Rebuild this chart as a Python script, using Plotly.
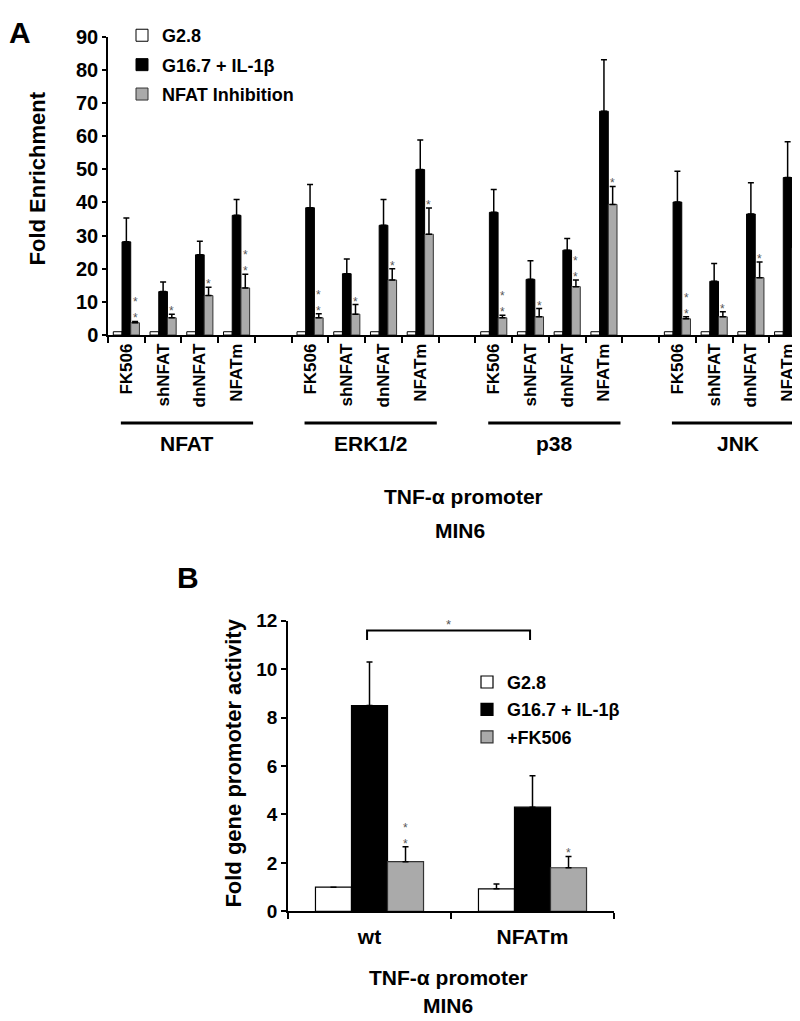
import plotly.graph_objects as go

W, H = 800, 1021
FONT = "Liberation Sans, Arial, sans-serif"

# ---------------- Panel A data ----------------
groups_A = ["NFAT", "ERK1/2", "p38", "JNK"]
treatments_A = ["FK506", "shNFAT", "dnNFAT", "NFATm"]
white_A = [1.0, 1.0, 1.0, 1.0, 1.0, 1.0, 1.0, 1.0, 1.0, 1.0, 1.0, 1.0, 1.0, 1.0, 1.0, 1.0]
black_A = [28.1, 13.1, 24.2, 36.1, 38.4, 18.5, 33.1, 49.9, 37.0, 16.8, 25.6, 67.5, 40.1, 16.2, 36.5, 47.5]
black_err_A = [7.2, 2.9, 4.1, 4.8, 7.0, 4.4, 7.8, 8.9, 6.9, 5.6, 3.5, 15.5, 9.3, 5.4, 9.4, 10.8]
gray_A = [3.7, 5.2, 11.9, 14.2, 5.2, 6.3, 16.6, 30.4, 5.2, 5.5, 14.6, 39.4, 4.9, 5.5, 17.3, 26.3]
gray_err_A = [0.4, 1.1, 2.5, 4.1, 1.2, 2.9, 3.4, 7.9, 0.8, 2.5, 2.0, 5.4, 0.6, 1.5, 4.7, 7.2]
sig_A = ["**", "*", "*", "**", "**", "*", "*", "*", "**", "*", "**", "*", "**", "*", "*", "*"]
yticks_A = [0, 10, 20, 30, 40, 50, 60, 70, 80, 90]
legend_A = ["G2.8", "G16.7 + IL-1\u03b2", "NFAT Inhibition"]

# ---------------- Panel B data ----------------
cats_B = ["wt", "NFATm"]
white_B = [1.0, 0.93]
white_err_B = [0.0, 0.2]
black_B = [8.5, 4.3]
black_err_B = [1.8, 1.3]
gray_B = [2.05, 1.8]
gray_err_B = [0.62, 0.47]
sig_B = ["**", "*"]
yticks_B = [0, 2, 4, 6, 8, 10, 12]
legend_B = ["G2.8", "G16.7 + IL-1\u03b2", "+FK506"]

GRAY = "#aaaaaa"
STAR = "#555555"


def px(x):
    return x / W


def py(y):
    return 1 - y / H


# positions: 4 groups of 4 categories separated by one empty slot
xA = [g * 5 + i for g in range(len(groups_A)) for i in range(len(treatments_A))]
labels_A = [t for g in groups_A for t in treatments_A]
wA = 0.237

fig = go.Figure()


def err(arr):
    return dict(type="data", array=arr, arrayminus=[0] * len(arr), symmetric=False,
                color="black", thickness=1.5, width=3)


fig.add_trace(go.Bar(x=xA, y=white_A, width=wA, offset=-1.5 * wA, name=legend_A[0],
                     marker=dict(color="white", line=dict(color="black", width=1)),
                     xaxis="x", yaxis="y", legend="legend", legendgroup="a1"))
fig.add_trace(go.Bar(x=xA, y=black_A, width=wA, offset=-0.5 * wA, name=legend_A[1],
                     marker=dict(color="black", line=dict(color="black", width=1)),
                     error_y=err(black_err_A), xaxis="x", yaxis="y", legend="legend", legendgroup="a2"))
fig.add_trace(go.Bar(x=xA, y=gray_A, width=wA, offset=0.5 * wA, name=legend_A[2],
                     marker=dict(color=GRAY, line=dict(color="#333333", width=1)),
                     error_y=err(gray_err_A), xaxis="x", yaxis="y", legend="legend", legendgroup="a3"))

xB = list(range(len(cats_B)))
wB = 0.221
fig.add_trace(go.Bar(x=xB, y=white_B, width=wB, offset=-1.5 * wB, name=legend_B[0],
                     marker=dict(color="white", line=dict(color="black", width=1.2)),
                     error_y=err(white_err_B), xaxis="x2", yaxis="y2", legend="legend2", legendgroup="b1"))
fig.add_trace(go.Bar(x=xB, y=black_B, width=wB, offset=-0.5 * wB, name=legend_B[1],
                     marker=dict(color="black", line=dict(color="black", width=1.2)),
                     error_y=err(black_err_B), xaxis="x2", yaxis="y2", legend="legend2", legendgroup="b2"))
fig.add_trace(go.Bar(x=xB, y=gray_B, width=wB, offset=0.5 * wB, name=legend_B[2],
                     marker=dict(color=GRAY, line=dict(color="#333333", width=1.2)),
                     error_y=err(gray_err_B), xaxis="x2", yaxis="y2", legend="legend2", legendgroup="b3"))

ann = []
shapes = []


def text_ann(x, y, text, size, angle=0):
    return dict(x=px(x), y=py(y), xref="paper", yref="paper", text=text, showarrow=False,
                xanchor="center", yanchor="middle", textangle=angle,
                font=dict(family=FONT, size=size, color="black", weight="bold"))


def star_ann(x, y, sig, xref, yref):
    # stacked asterisks as one text
    return dict(x=x, y=y, xref=xref, yref=yref, text="<br>".join(["*"] * len(sig)),
                showarrow=False, xanchor="center", yanchor="bottom", yshift=-6,
                font=dict(family=FONT, size=12, color=STAR))


# significance stars panel A
for xi, v, e, s in zip(xA, gray_A, gray_err_A, sig_A):
    ann.append(star_ann(xi + wA, v + e, s, "x", "y"))

# group underlines and labels
for g, name in enumerate(groups_A):
    shapes.append(dict(type="line", xref="x", yref="paper", x0=g * 5 - 0.15, x1=g * 5 + 3.45,
                       y0=py(413), y1=py(413), line=dict(color="black", width=3)))
    ann.append(dict(x=g * 5 + 1.65, y=py(434), xref="x", yref="paper", text=name, showarrow=False,
                    xanchor="center", yanchor="middle",
                    font=dict(family=FONT, size=21, color="black", weight="bold")))

ann += [
    text_ann(456, 488, "TNF-\u03b1 promoter", 21),
    text_ann(452, 523, "MIN6", 21),
    text_ann(12, 14, "A", 30),
    text_ann(180, 571, "B", 30),
    text_ann(29, 163, "Fold Enrichment", 22, -90),
    text_ann(226, 760, "Fold gene promoter activity", 22, -90),
    text_ann(440, 980, "TNF-\u03b1 promoter", 21),
    text_ann(440, 1008, "MIN6", 21),
]

# significance stars panel B
for xi, v, e, s in zip(xB, gray_B, gray_err_B, sig_B):
    ann.append(star_ann(xi + wB, v + e, s, "x2", "y2"))

# bracket between black bars in panel B
shapes.append(dict(type="path", xref="x2", yref="y2",
                   path="M -0.015 11.2 L -0.015 11.6 L 0.985 11.6 L 0.985 11.2",
                   line=dict(color="black", width=2)))
ann.append(dict(x=0.485, y=11.6, xref="x2", yref="y2", text="*", showarrow=False,
                xanchor="center", yanchor="bottom",
                yshift=-4, font=dict(family=FONT, size=13, color=STAR)))

axis_common = dict(showline=True, linecolor="black", linewidth=1.5, showgrid=False, zeroline=False,
                   tickcolor="black", tickwidth=1.5)

fig.update_layout(
    width=W, height=H, margin=dict(l=0, r=0, t=0, b=0),
    paper_bgcolor="white", plot_bgcolor="white", barmode="overlay",
    font=dict(family=FONT, color="black"),
    xaxis=dict(domain=[px(100), px(798)], range=[-0.5, 18.5], anchor="y",
               tickvals=xA, ticktext=labels_A, ticks="", tickangle=-90,
               tickfont=dict(family=FONT, size=17, color="black", weight="bold"),
               minor=dict(tickvals=[k - 0.5 for k in range(20)], ticks="outside", ticklen=6,
                          tickwidth=1.5, tickcolor="black"),
               **axis_common),
    yaxis=dict(domain=[py(323), py(18)], range=[0, 90], anchor="x", tickvals=yticks_A,
               ticks="outside", ticklen=4,
               tickfont=dict(family=FONT, size=20, color="black", weight="bold"), **axis_common),
    xaxis2=dict(domain=[px(280), px(606)], range=[-0.5, 1.5], anchor="y2",
                tickvals=xB, ticktext=cats_B, ticks="", ticklabelstandoff=6,
                tickfont=dict(family=FONT, size=21, color="black", weight="bold"),
                minor=dict(tickvals=[-0.5, 0.5, 1.5], ticks="outside", ticklen=6,
                           tickwidth=1.5, tickcolor="black"),
                **axis_common),
    yaxis2=dict(domain=[py(912), py(615)], range=[0, 12], anchor="x2", tickvals=yticks_B,
                ticks="outside", ticklen=5,
                tickfont=dict(family=FONT, size=19, color="black", weight="bold"), **axis_common),
    legend=dict(x=px(114), y=py(-2), xanchor="left", yanchor="top", bgcolor="rgba(0,0,0,0)",
                traceorder="grouped", tracegroupgap=3,
                font=dict(family=FONT, size=18, color="black", weight="bold")),
    legend2=dict(x=px(459), y=py(659), xanchor="left", yanchor="top", bgcolor="rgba(0,0,0,0)",
                 traceorder="grouped", tracegroupgap=1,
                 font=dict(family=FONT, size=18, color="black", weight="bold")),
    annotations=ann, shapes=shapes, showlegend=True,
)

fig.write_html("out.html")
